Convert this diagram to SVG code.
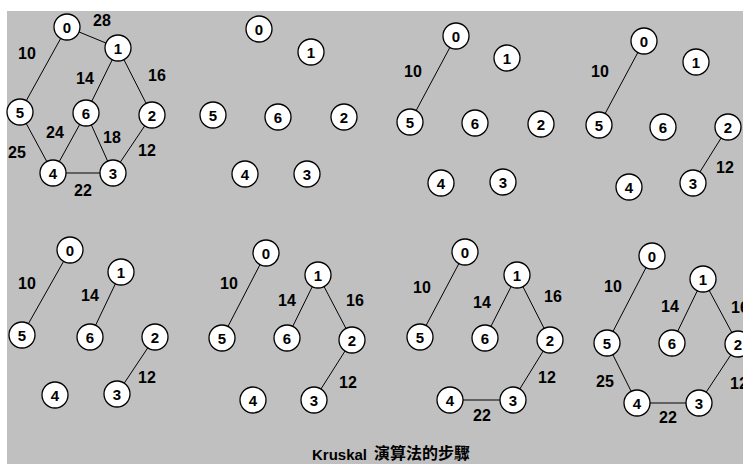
<svg xmlns="http://www.w3.org/2000/svg" width="743" height="464" viewBox="0 0 743 464">
<style>
.bg{fill:#c0c0c0}
.e{stroke:#000;stroke-width:1}
.n circle{fill:#fff;stroke:#000;stroke-width:1.3}
.n text,.l{font-family:"Liberation Sans",Arial,sans-serif;font-weight:bold;font-size:15px;fill:#000;text-anchor:middle}
.l{font-size:16px}
.t{font-family:"Liberation Sans","Noto Sans CJK TC",sans-serif;font-weight:bold;font-size:15px;fill:#000}
</style>
<rect x="0" y="0" width="743" height="464" fill="#fff"/>
<rect class="bg" x="7" y="11" width="736" height="453"/>
<g id="connectors">
<!-- panel 1 -->
<line class="e" x1="67" y1="27" x2="118" y2="48"/>
<line class="e" x1="67" y1="27" x2="20" y2="112"/>
<line class="e" x1="118" y1="48" x2="86" y2="113"/>
<line class="e" x1="118" y1="48" x2="152" y2="115"/>
<line class="e" x1="20" y1="112" x2="53" y2="173"/>
<line class="e" x1="86" y1="113" x2="53" y2="173"/>
<line class="e" x1="86" y1="113" x2="113" y2="173"/>
<line class="e" x1="152" y1="115" x2="113" y2="173"/>
<line class="e" x1="53" y1="173" x2="113" y2="173"/>
<text class="l" x="102" y="26">28</text>
<text class="l" x="27" y="59">10</text>
<text class="l" x="85" y="84">14</text>
<text class="l" x="157" y="81">16</text>
<text class="l" x="55" y="138">24</text>
<text class="l" x="112" y="143">18</text>
<text class="l" x="17" y="158">25</text>
<text class="l" x="147" y="156">12</text>
<text class="l" x="83" y="196">22</text>
<!-- panel 3 -->
<line class="e" x1="456" y1="36" x2="410" y2="122"/>
<text class="l" x="413" y="77">10</text>
<!-- panel 4 -->
<line class="e" x1="644" y1="41" x2="599" y2="125"/>
<line class="e" x1="728" y1="127" x2="693" y2="183"/>
<text class="l" x="600" y="77">10</text>
<text class="l" x="725" y="173">12</text>
<!-- panel 5 -->
<line class="e" x1="70" y1="250" x2="22" y2="335"/>
<line class="e" x1="121" y1="272" x2="90" y2="337"/>
<line class="e" x1="155" y1="337" x2="117" y2="394"/>
<text class="l" x="27" y="289">10</text>
<text class="l" x="90" y="301">14</text>
<text class="l" x="147" y="383">12</text>
<!-- panel 6 -->
<line class="e" x1="266" y1="253" x2="222" y2="338"/>
<line class="e" x1="318" y1="275" x2="287" y2="338"/>
<line class="e" x1="318" y1="275" x2="352" y2="340"/>
<line class="e" x1="352" y1="340" x2="314" y2="400"/>
<text class="l" x="229" y="289">10</text>
<text class="l" x="287" y="306">14</text>
<text class="l" x="355" y="306">16</text>
<text class="l" x="348" y="388">12</text>
<!-- panel 7 -->
<line class="e" x1="465" y1="252" x2="420" y2="337"/>
<line class="e" x1="517" y1="275" x2="485" y2="338"/>
<line class="e" x1="517" y1="275" x2="550" y2="340"/>
<line class="e" x1="550" y1="340" x2="513" y2="400"/>
<line class="e" x1="450" y1="400" x2="513" y2="400"/>
<text class="l" x="422" y="293">10</text>
<text class="l" x="482" y="308">14</text>
<text class="l" x="553" y="302">16</text>
<text class="l" x="547" y="383">12</text>
<text class="l" x="482" y="421">22</text>
<!-- panel 8 -->
<line class="e" x1="652" y1="256" x2="607" y2="343"/>
<line class="e" x1="703" y1="279" x2="672" y2="343"/>
<line class="e" x1="703" y1="279" x2="738" y2="344"/>
<line class="e" x1="738" y1="344" x2="699" y2="403"/>
<line class="e" x1="607" y1="343" x2="637" y2="403"/>
<line class="e" x1="637" y1="403" x2="699" y2="403"/>
<text class="l" x="613" y="292">10</text>
<text class="l" x="670" y="312">14</text>
<text class="l" x="740" y="313">16</text>
<text class="l" x="605" y="387">25</text>
<text class="l" x="739" y="389">12</text>
<text class="l" x="668" y="423">22</text>
</g>
<!-- panel 1 nodes -->
<g id="p1-n0" class="n"><circle cx="67" cy="27" r="13"/><text x="67" y="32.5">0</text></g>
<g id="p1-n1" class="n"><circle cx="118" cy="48" r="13"/><text x="118" y="53.5">1</text></g>
<g id="p1-n2" class="n"><circle cx="152" cy="115" r="13"/><text x="152" y="120.5">2</text></g>
<g id="p1-n3" class="n"><circle cx="113" cy="173" r="13"/><text x="113" y="178.5">3</text></g>
<g id="p1-n4" class="n"><circle cx="53" cy="173" r="13"/><text x="53" y="178.5">4</text></g>
<g id="p1-n5" class="n"><circle cx="20" cy="112" r="13"/><text x="20" y="117.5">5</text></g>
<g id="p1-n6" class="n"><circle cx="86" cy="113" r="13"/><text x="86" y="118.5">6</text></g>
<!-- panel 2 nodes -->
<g id="p2-n0" class="n"><circle cx="259" cy="29" r="13"/><text x="259" y="34.5">0</text></g>
<g id="p2-n1" class="n"><circle cx="311" cy="52" r="13"/><text x="311" y="57.5">1</text></g>
<g id="p2-n2" class="n"><circle cx="344" cy="117" r="13"/><text x="344" y="122.5">2</text></g>
<g id="p2-n3" class="n"><circle cx="307" cy="174" r="13"/><text x="307" y="179.5">3</text></g>
<g id="p2-n4" class="n"><circle cx="245" cy="174" r="13"/><text x="245" y="179.5">4</text></g>
<g id="p2-n5" class="n"><circle cx="213" cy="115" r="13"/><text x="213" y="120.5">5</text></g>
<g id="p2-n6" class="n"><circle cx="278" cy="117" r="13"/><text x="278" y="122.5">6</text></g>
<!-- panel 3 nodes -->
<g id="p3-n0" class="n"><circle cx="456" cy="36" r="13"/><text x="456" y="41.5">0</text></g>
<g id="p3-n1" class="n"><circle cx="507" cy="58" r="13"/><text x="507" y="63.5">1</text></g>
<g id="p3-n2" class="n"><circle cx="541" cy="124" r="13"/><text x="541" y="129.5">2</text></g>
<g id="p3-n3" class="n"><circle cx="503" cy="182" r="13"/><text x="503" y="187.5">3</text></g>
<g id="p3-n4" class="n"><circle cx="441" cy="183" r="13"/><text x="441" y="188.5">4</text></g>
<g id="p3-n5" class="n"><circle cx="410" cy="122" r="13"/><text x="410" y="127.5">5</text></g>
<g id="p3-n6" class="n"><circle cx="475" cy="123" r="13"/><text x="475" y="128.5">6</text></g>
<!-- panel 4 nodes -->
<g id="p4-n0" class="n"><circle cx="644" cy="41" r="13"/><text x="644" y="46.5">0</text></g>
<g id="p4-n1" class="n"><circle cx="696" cy="62" r="13"/><text x="696" y="67.5">1</text></g>
<g id="p4-n2" class="n"><circle cx="728" cy="127" r="13"/><text x="728" y="132.5">2</text></g>
<g id="p4-n3" class="n"><circle cx="693" cy="183" r="13"/><text x="693" y="188.5">3</text></g>
<g id="p4-n4" class="n"><circle cx="629" cy="187" r="13"/><text x="629" y="192.5">4</text></g>
<g id="p4-n5" class="n"><circle cx="599" cy="125" r="13"/><text x="599" y="130.5">5</text></g>
<g id="p4-n6" class="n"><circle cx="663" cy="127" r="13"/><text x="663" y="132.5">6</text></g>
<!-- panel 5 nodes -->
<g id="p5-n0" class="n"><circle cx="70" cy="250" r="13"/><text x="70" y="255.5">0</text></g>
<g id="p5-n1" class="n"><circle cx="121" cy="272" r="13"/><text x="121" y="277.5">1</text></g>
<g id="p5-n2" class="n"><circle cx="155" cy="337" r="13"/><text x="155" y="342.5">2</text></g>
<g id="p5-n3" class="n"><circle cx="117" cy="394" r="13"/><text x="117" y="399.5">3</text></g>
<g id="p5-n4" class="n"><circle cx="55" cy="395" r="13"/><text x="55" y="400.5">4</text></g>
<g id="p5-n5" class="n"><circle cx="22" cy="335" r="13"/><text x="22" y="340.5">5</text></g>
<g id="p5-n6" class="n"><circle cx="90" cy="337" r="13"/><text x="90" y="342.5">6</text></g>
<!-- panel 6 nodes -->
<g id="p6-n0" class="n"><circle cx="266" cy="253" r="13"/><text x="266" y="258.5">0</text></g>
<g id="p6-n1" class="n"><circle cx="318" cy="275" r="13"/><text x="318" y="280.5">1</text></g>
<g id="p6-n2" class="n"><circle cx="352" cy="340" r="13"/><text x="352" y="345.5">2</text></g>
<g id="p6-n3" class="n"><circle cx="314" cy="400" r="13"/><text x="314" y="405.5">3</text></g>
<g id="p6-n4" class="n"><circle cx="253" cy="400" r="13"/><text x="253" y="405.5">4</text></g>
<g id="p6-n5" class="n"><circle cx="222" cy="338" r="13"/><text x="222" y="343.5">5</text></g>
<g id="p6-n6" class="n"><circle cx="287" cy="338" r="13"/><text x="287" y="343.5">6</text></g>
<!-- panel 7 nodes -->
<g id="p7-n0" class="n"><circle cx="465" cy="252" r="13"/><text x="465" y="257.5">0</text></g>
<g id="p7-n1" class="n"><circle cx="517" cy="275" r="13"/><text x="517" y="280.5">1</text></g>
<g id="p7-n2" class="n"><circle cx="550" cy="340" r="13"/><text x="550" y="345.5">2</text></g>
<g id="p7-n3" class="n"><circle cx="513" cy="400" r="13"/><text x="513" y="405.5">3</text></g>
<g id="p7-n4" class="n"><circle cx="450" cy="400" r="13"/><text x="450" y="405.5">4</text></g>
<g id="p7-n5" class="n"><circle cx="420" cy="337" r="13"/><text x="420" y="342.5">5</text></g>
<g id="p7-n6" class="n"><circle cx="485" cy="338" r="13"/><text x="485" y="343.5">6</text></g>
<!-- panel 8 nodes -->
<g id="p8-n0" class="n"><circle cx="652" cy="256" r="13"/><text x="652" y="261.5">0</text></g>
<g id="p8-n1" class="n"><circle cx="703" cy="279" r="13"/><text x="703" y="284.5">1</text></g>
<g id="p8-n2" class="n"><circle cx="738" cy="344" r="13"/><text x="738" y="349.5">2</text></g>
<g id="p8-n3" class="n"><circle cx="699" cy="403" r="13"/><text x="699" y="408.5">3</text></g>
<g id="p8-n4" class="n"><circle cx="637" cy="403" r="13"/><text x="637" y="408.5">4</text></g>
<g id="p8-n5" class="n"><circle cx="607" cy="343" r="13"/><text x="607" y="348.5">5</text></g>
<g id="p8-n6" class="n"><circle cx="672" cy="343" r="13"/><text x="672" y="348.5">6</text></g>
<g id="title">
<text class="t" x="312" y="460">Kruskal</text>
<text class="t" x="374" y="459" style="font-family:'Noto Sans CJK TC','Noto Sans CJK SC',sans-serif;font-size:16px">演算法的步驟</text>
</g>
</svg>
